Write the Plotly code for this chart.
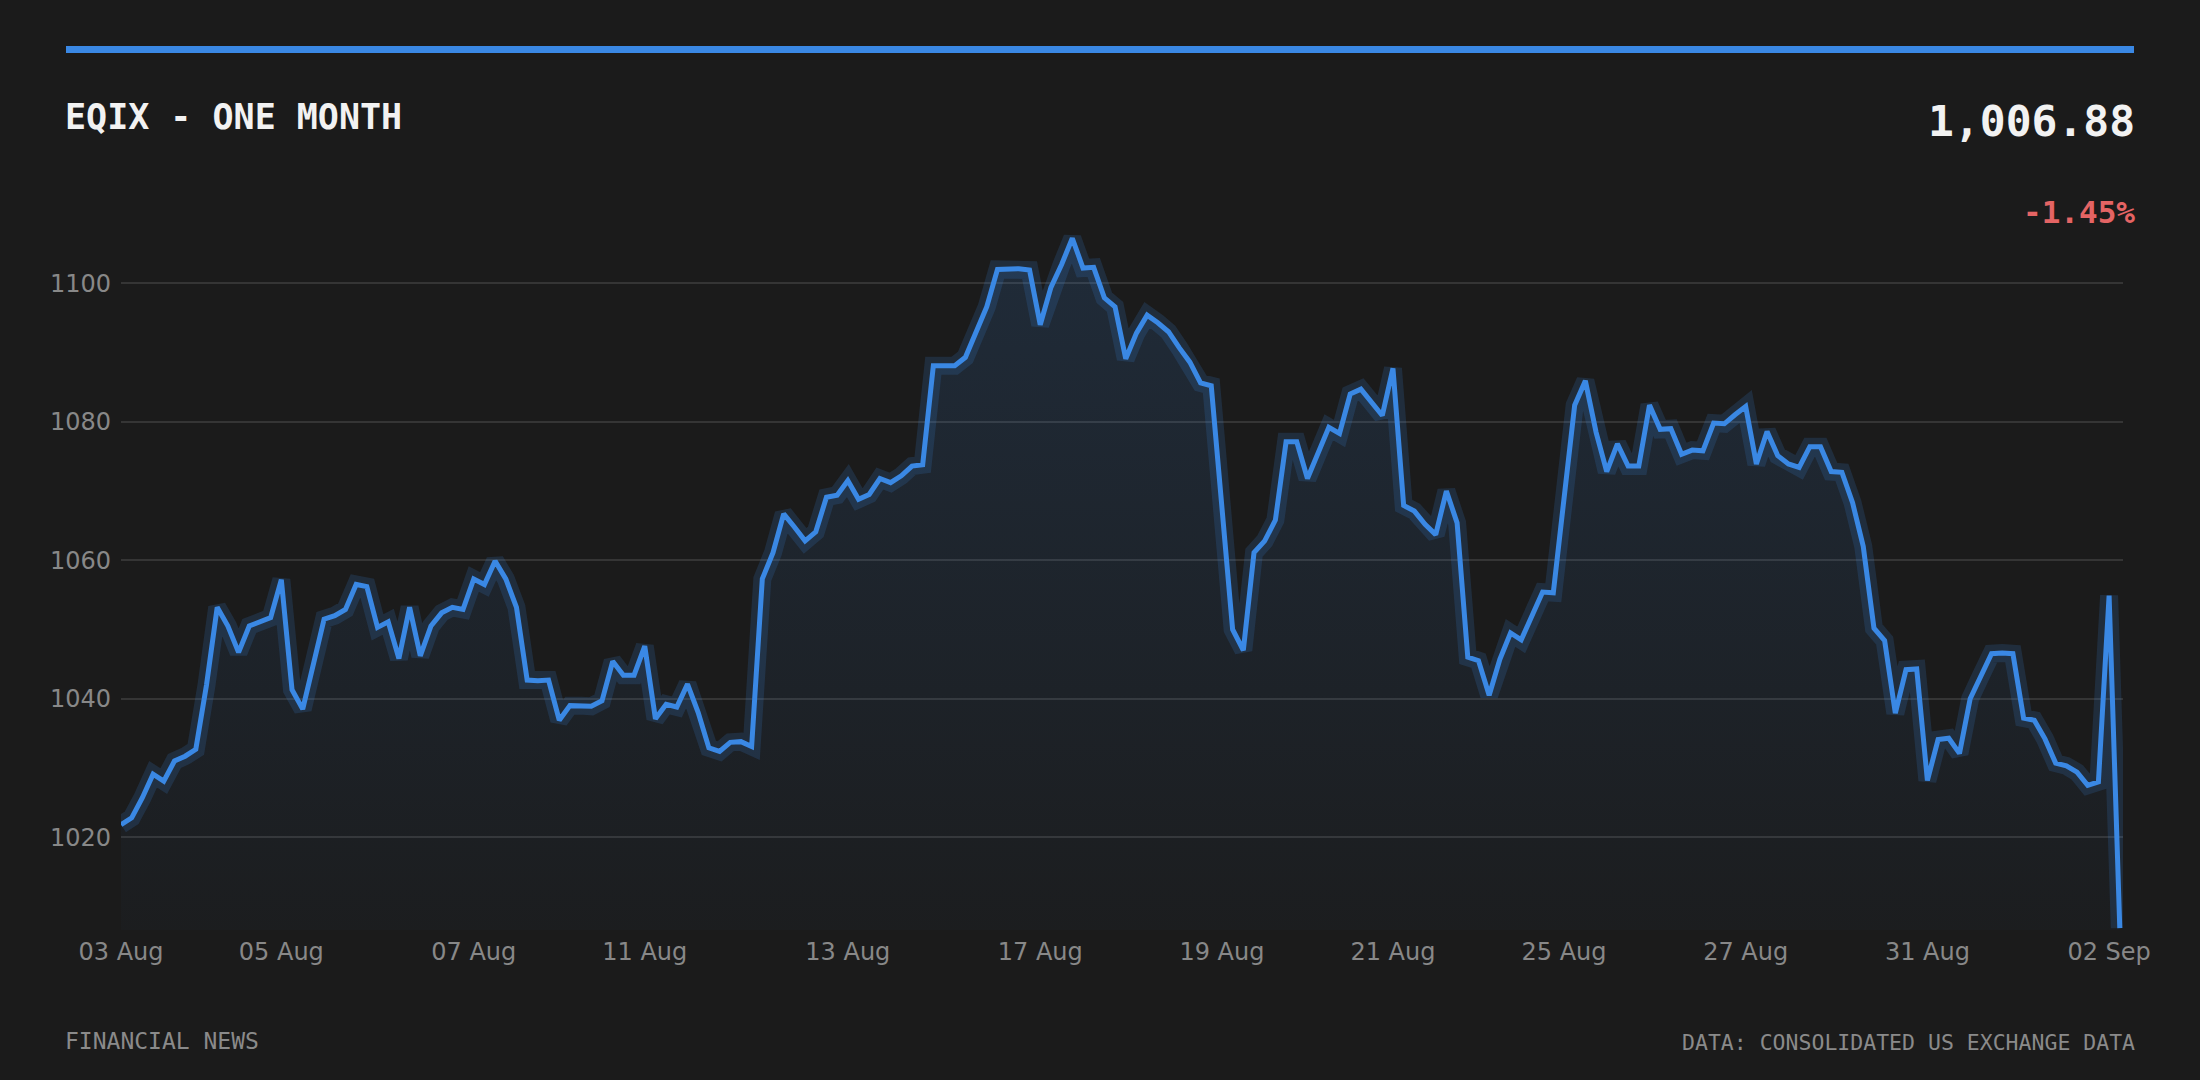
import plotly.graph_objects as go

# ---- data ----
prices = [
    1021.8, 1022.8, 1025.7, 1029.1, 1028.1, 1031.0, 1031.7, 1032.7, 1042.0, 1053.2,
    1050.5, 1046.7, 1050.5, 1051.1, 1051.7, 1057.2, 1041.3, 1038.5, 1045.0, 1051.5,
    1052.0, 1052.9, 1056.5, 1056.2, 1050.3, 1051.1, 1045.8, 1053.2, 1046.2, 1050.5,
    1052.4, 1053.2, 1052.9, 1057.3, 1056.5, 1059.9, 1057.3, 1053.2, 1042.7, 1042.6,
    1042.7, 1036.9, 1039.0, 1039.0, 1038.9, 1039.7, 1045.4, 1043.4, 1043.4, 1047.6,
    1037.1, 1039.2, 1038.8, 1042.1, 1038.0, 1032.9, 1032.4, 1033.7, 1033.8, 1033.1,
    1057.3, 1061.1, 1066.7, 1064.8, 1062.8, 1064.1, 1069.1, 1069.4, 1071.5, 1068.8,
    1069.5, 1071.8, 1071.2, 1072.2, 1073.6, 1073.8, 1088.1, 1088.1, 1088.1, 1089.3,
    1093.0, 1096.6, 1102.0, 1102.1, 1102.1, 1101.9, 1094.0, 1099.4, 1102.7, 1106.5,
    1102.2, 1102.3, 1097.9, 1096.6, 1089.1, 1092.8, 1095.4, 1094.3, 1093.0, 1090.7,
    1088.6, 1085.6, 1085.2, 1067.6, 1050.0, 1047.0, 1061.1, 1062.8, 1065.8, 1077.1,
    1077.1, 1071.8, 1075.5, 1079.2, 1078.3, 1084.0, 1084.7, 1082.8, 1080.9, 1087.7,
    1067.9, 1067.1, 1065.2, 1063.7, 1070.0, 1065.4, 1046.0, 1045.5, 1040.5, 1045.7,
    1049.5, 1048.5, 1051.9, 1055.4, 1055.3, 1068.8, 1082.4, 1085.9, 1078.5, 1072.8,
    1076.8, 1073.6, 1073.6, 1082.4, 1078.9, 1079.0, 1075.3, 1075.9, 1075.8, 1079.8,
    1079.7, 1081.0, 1082.2, 1073.9, 1078.6, 1075.1, 1073.9, 1073.4, 1076.4, 1076.4,
    1072.8, 1072.7, 1068.3, 1062.0, 1050.2, 1048.4, 1037.9, 1044.2, 1044.3, 1028.2,
    1034.1, 1034.3, 1032.1, 1040.0, 1043.3, 1046.5, 1046.6, 1046.5, 1037.2, 1036.9,
    1034.2, 1030.7, 1030.3, 1029.4, 1027.5, 1028.0, 1054.9, 1006.88,
]

tick_labels = ["03 Aug", "05 Aug", "07 Aug", "11 Aug", "13 Aug", "17 Aug",
               "19 Aug", "21 Aug", "25 Aug", "27 Aug", "31 Aug", "02 Sep"]
points_per_period = [15, 18, 16, 19, 18, 17, 16, 16, 17, 17, 17, 2]

y_ticks = [1020, 1040, 1060, 1080, 1100]

title_text = "EQIX - ONE MONTH"
last_price_text = "1,006.88"
change_text = "-1.45%"
source_left = "FINANCIAL NEWS"
source_right = "DATA: CONSOLIDATED US EXCHANGE DATA"

# ---- derived ----
x_idx = list(range(len(prices)))
tick_vals = []
acc = 0
for n in points_per_period:
    tick_vals.append(acc)
    acc += n

# ---- styling ----
BG = "#1b1b1b"
BLUE = "#3a88e4"
W, H = 2200, 1080
ML, MR, MT, MB = 121, 77, 214, 150
PW, PH = W - ML - MR, H - MT - MB


def px_x(px):
    return (px - ML) / PW


def px_y(py):
    return (H - MB - py) / PH


fig = go.Figure()

# area fill with vertical gradient
fig.add_trace(go.Scatter(
    x=x_idx, y=prices, mode="lines", line=dict(width=0, color=BLUE),
    fill="tozeroy",
    fillgradient=dict(type="vertical",
                      colorscale=[[0, "rgba(58,136,228,0.02)"],
                                  [1, "rgba(58,136,228,0.15)"]],
                      start=min(prices), stop=max(prices)),
    hoverinfo="skip", showlegend=False,
))
# glow
fig.add_trace(go.Scatter(
    x=x_idx, y=prices, mode="lines",
    line=dict(width=18, color="rgba(58,136,228,0.17)"),
    hoverinfo="skip", showlegend=False,
))
# main line
fig.add_trace(go.Scatter(
    x=x_idx, y=prices, mode="lines",
    line=dict(width=5, color=BLUE),
    showlegend=False,
))

fig.update_layout(
    width=W, height=H,
    margin=dict(l=ML, r=MR, t=MT, b=MB, pad=0),
    paper_bgcolor=BG, plot_bgcolor=BG,
    showlegend=False,
    xaxis=dict(
        range=[0, len(prices) - 0.7],
        tickmode="array", tickvals=tick_vals, ticktext=tick_labels,
        showgrid=False, zeroline=False, showline=False, ticks="",
        tickfont=dict(family="DejaVu Sans", size=24, color="#888888"),
        ticklabelstandoff=5,
    ),
    yaxis=dict(
        range=[1006.6, 1110],
        tickmode="array", tickvals=y_ticks,
        showgrid=True, gridcolor="#353535", gridwidth=1.5,
        zeroline=False, showline=False, ticks="",
        tickfont=dict(family="DejaVu Sans", size=24, color="#888888"),
        ticklabelstandoff=9,
    ),
    shapes=[dict(type="rect", xref="paper", yref="paper",
                 x0=px_x(66), x1=px_x(2134), y0=px_y(53), y1=px_y(46),
                 fillcolor=BLUE, line=dict(width=0), layer="above")],
    annotations=[
        dict(text=title_text, xref="paper", yref="paper", x=px_x(63), y=px_y(117),
             xanchor="left", yanchor="middle", showarrow=False,
             font=dict(family="DejaVu Sans Mono", size=35, color="#f2f2f2", weight="bold")),
        dict(text=last_price_text, xref="paper", yref="paper", x=px_x(2137), y=px_y(121),
             xanchor="right", yanchor="middle", showarrow=False,
             font=dict(family="DejaVu Sans Mono", size=43, color="#f2f2f2", weight="bold")),
        dict(text=change_text, xref="paper", yref="paper", x=px_x(2137), y=px_y(212),
             xanchor="right", yanchor="middle", showarrow=False,
             font=dict(family="DejaVu Sans Mono", size=31, color="#e46464", weight="bold")),
        dict(text=source_left, xref="paper", yref="paper", x=px_x(63), y=px_y(1041),
             xanchor="left", yanchor="middle", showarrow=False,
             font=dict(family="DejaVu Sans Mono", size=23, color="#8a8a8a")),
        dict(text=source_right, xref="paper", yref="paper", x=px_x(2137), y=px_y(1042),
             xanchor="right", yanchor="middle", showarrow=False,
             font=dict(family="DejaVu Sans Mono", size=21.5, color="#8a8a8a")),
    ],
)

fig.write_html("out.html", config={"displayModeBar": False},
               post_script="document.body.style.margin='0';document.body.style.background='#1b1b1b';")
